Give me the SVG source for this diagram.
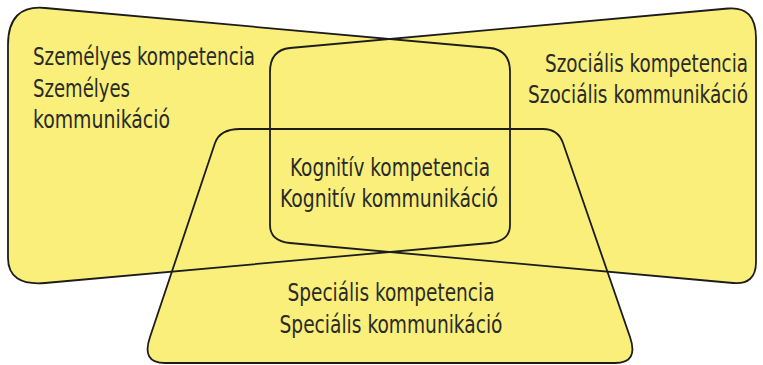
<svg xmlns="http://www.w3.org/2000/svg" xmlns:xlink="http://www.w3.org/1999/xlink" width="763" height="365" viewBox="0 0 763 365">
<style>
.fill{fill:#f9ef7a;stroke:none}
.line{fill:none;stroke:#1c1c1c;stroke-width:1.8;stroke-linejoin:round}
.t{font-family:"DejaVu Sans Condensed","Liberation Sans",sans-serif;font-size:24px;fill:#2a2a28}
.m{text-anchor:middle}
.e{text-anchor:end}
</style>
<defs>
<path id="p-left" d="M45,8 L490,48 Q510,50 510,72 L510,225 Q510,241 490,243 L45,283 Q8,286 8,258 L8,45 Q8,4.5 45,8 Z"/>
<path id="p-right" d="M728,8.5 Q756,6 756,38 L756,262 Q756,285 733,283 L290,243 Q270,241 270,225 L270,72 Q270,50 290,48 Z"/>
<path id="p-bottom" d="M240,129 L543,129 Q558,129 563,143 L630,337 Q639,363 615,363 L165,363 Q141,363 150,337 L215,143 Q220,129 240,129 Z"/>
</defs>
<g id="fills">
<use xlink:href="#p-left" class="fill"/>
<use xlink:href="#p-right" class="fill"/>
<use xlink:href="#p-bottom" class="fill"/>
</g>
<g id="node-szemelyes">
<use xlink:href="#p-left" class="line"/>
<text class="t" x="33" y="65" textLength="222" lengthAdjust="spacingAndGlyphs">Személyes kompetencia</text>
<text class="t" x="33" y="97" textLength="97" lengthAdjust="spacingAndGlyphs">Személyes</text>
<text class="t" x="33" y="128" textLength="137" lengthAdjust="spacingAndGlyphs">kommunikáció</text>
</g>
<g id="node-szocialis">
<use xlink:href="#p-right" class="line"/>
<text class="t e" x="748" y="72" textLength="203" lengthAdjust="spacingAndGlyphs">Szociális kompetencia</text>
<text class="t e" x="748" y="103" textLength="220" lengthAdjust="spacingAndGlyphs">Szociális kommunikáció</text>
</g>
<g id="node-specialis">
<use xlink:href="#p-bottom" class="line"/>
<text class="t m" x="391" y="301" textLength="207" lengthAdjust="spacingAndGlyphs">Speciális kompetencia</text>
<text class="t m" x="391" y="333" textLength="223" lengthAdjust="spacingAndGlyphs">Speciális kommunikáció</text>
</g>
<g id="node-kognitiv">
<text class="t m" x="390" y="176" textLength="200" lengthAdjust="spacingAndGlyphs">Kognitív kompetencia</text>
<text class="t m" x="389" y="207" textLength="218" lengthAdjust="spacingAndGlyphs">Kognitív kommunikáció</text>
</g>
<g id="connectors"></g>
</svg>
